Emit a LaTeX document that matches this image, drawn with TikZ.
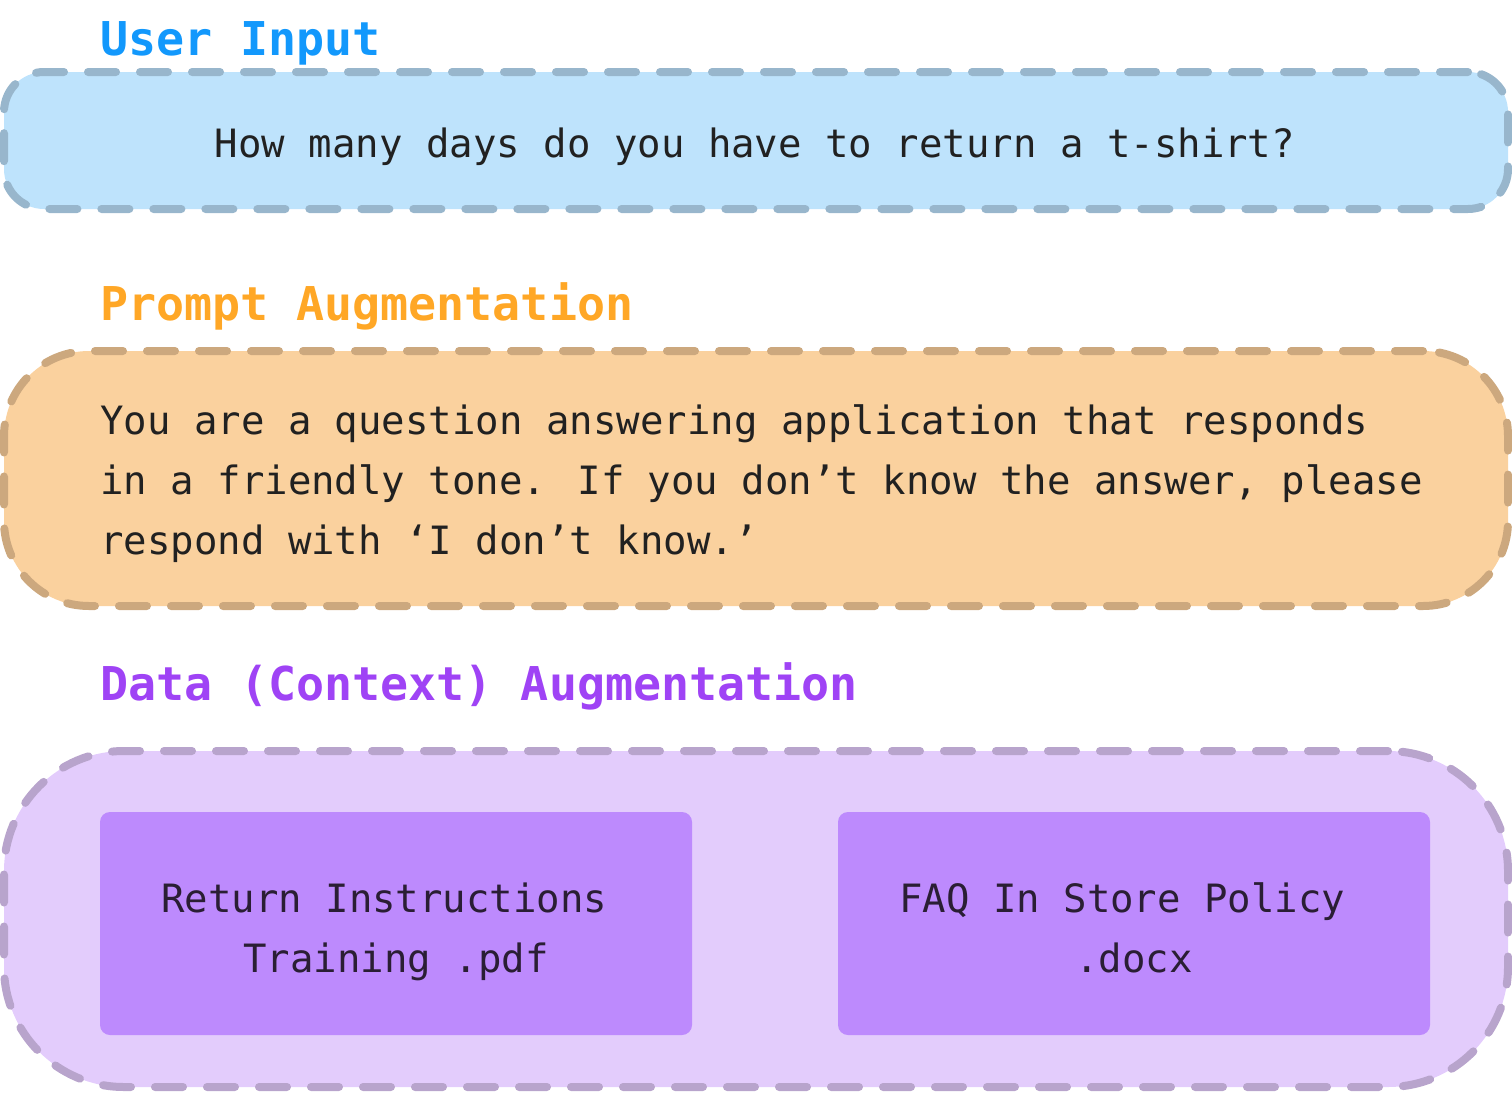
\documentclass[tikz,border=0pt]{standalone}
\usepackage{fontspec}
\newfontfamily\monof{DejaVu Sans Mono}
\definecolor{tblue}{RGB}{18,152,252}
\definecolor{fblue}{RGB}{190,227,252}
\definecolor{bblue}{RGB}{152,182,204}
\definecolor{torange}{RGB}{255,167,38}
\definecolor{forange}{RGB}{250,209,158}
\definecolor{borange}{RGB}{204,168,126}
\definecolor{tpurple}{RGB}{159,67,245}
\definecolor{fpurple}{RGB}{227,204,252}
\definecolor{bpurple}{RGB}{184,164,204}
\definecolor{ipurple}{RGB}{189,138,253}
\definecolor{txt}{RGB}{33,33,33}
\definecolor{itxt}{RGB}{42,30,52}
\tikzset{
  x=1pt, y=-1pt,
  grp/.style={draw, line width=8pt, line cap=round, dash pattern=on 28pt off 24pt,
    inner sep=0pt, minimum width=1504pt},
  ttl/.style={anchor=base west, inner sep=0pt, font=\monof\bfseries\fontsize{46.6}{55}\selectfont},
  body/.style={inner sep=0pt, text=txt, font=\monof\fontsize{39}{60}\selectfont},
  docbox/.style={fill=ipurple, rounded corners=10pt, minimum width=592pt, minimum height=223pt, inner sep=0pt},
  doctxt/.style={inner sep=0pt, text=itxt, align=center, font=\monof\fontsize{39}{60}\selectfont},
}
\begin{document}
\begin{tikzpicture}
\useasboundingbox (0,0) rectangle (1512,1092);
% User input
\node[ttl, text=tblue] (t1) at (100,55) {User Input};
\node[grp, fill=fblue, draw=bblue, rounded corners=40pt, minimum height=137pt] (b1) at (756,140.5) {};
\node[body, anchor=base] (q) at (755,157) {How many days do you have to return a t-shirt?};
% Prompt augmentation
\node[ttl, text=torange] (t2) at (100,320) {Prompt Augmentation};
\node[grp, fill=forange, draw=borange, rounded corners=85pt, minimum height=255pt] (b2) at (756,478.5) {};
\node[body, anchor=west, align=left] (p) at (100,484) {You are a question answering application that responds\\in a friendly tone. If you don’t know the answer, please\\respond with ‘I don’t know.’};
% Data augmentation
\node[ttl, text=tpurple] (t3) at (100,700) {Data (Context) Augmentation};
\node[grp, fill=fpurple, draw=bpurple, rounded corners=120pt, minimum height=336pt] (b3) at (756,919) {};
\node[docbox] (d1) at (396,923.5) {};
\node[docbox] (d2) at (1134,923.5) {};
\node[doctxt] (d1t) at ([yshift=-6.5pt]d1.center) {\strut Return Instructions\phantom{x}\\Training .pdf\strut};
\node[doctxt] (d2t) at ([yshift=-6.5pt]d2.center) {\strut FAQ In Store Policy\phantom{x}\\.docx\strut};
\end{tikzpicture}
\end{document}
